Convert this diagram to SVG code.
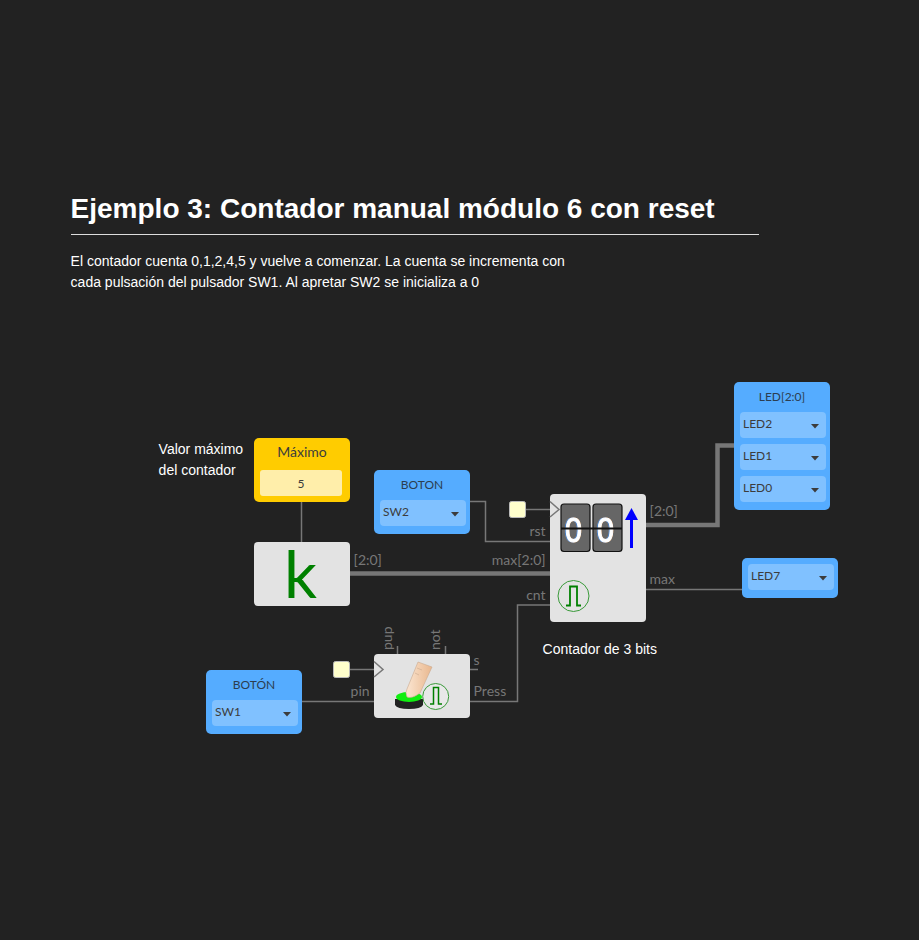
<svg xmlns="http://www.w3.org/2000/svg" width="919" height="940" viewBox="0 0 919 940">
<style>
.ui{font-family:"Liberation Sans",Arial,sans-serif;fill:#fff}
.lbl{font-family:Lato,"Liberation Sans",sans-serif;font-size:14px;fill:#777}
.ttl{font-family:Lato,"Liberation Sans",sans-serif;font-size:12px;fill:#2c3e50;text-anchor:middle}
.opt{font-family:Lato,"Liberation Sans",sans-serif;font-size:12px;fill:#3c3c3c}
.blue{fill:#55acff}
.sel{fill:#80c1ff}
.gray{fill:#e3e3e3}
.w{fill:none;stroke:#777;stroke-width:1.500}
.bus{fill:none;stroke:#777;stroke-width:4.500}
.caret{fill:#3c3c3c}
.fix{fill:#ffc;stroke:#bbb;stroke-width:1}
.clk{fill:none;stroke:#777;stroke-width:1.500}
.digit{font-family:"Liberation Sans",sans-serif;font-size:36px;fill:#fff;stroke:#fff;stroke-width:1;text-anchor:middle;filter:drop-shadow(-.7px 0 #2f7fe0) drop-shadow(.7px 0 #e08020)}
</style>
<defs>
<path id="caret" class="caret" d="M-4 0H4L0 4.500Z"/>
<g id="pulse"><circle r="15.500" fill="none" stroke="#3a9a3a" stroke-width="1"/><path d="M-7.500 9.500H-3.500V-9.500H3.500V9.500H7.500" fill="none" stroke="#008000" stroke-width="1.800"/></g>
<linearGradient id="finger" x1="0" y1="0" x2="1" y2="0"><stop offset="0" stop-color="#fbe6d2"/><stop offset="1" stop-color="#e9b78e"/></linearGradient>
</defs>
<rect width="919" height="940" fill="#222"/>
<g id="heading">
<text class="ui" x="70.600" y="218" font-size="28" font-weight="700">Ejemplo 3: Contador manual módulo 6 con reset</text>
<rect x="71" y="234" width="688" height="1" fill="#ddd"/>
<text class="ui" x="70.600" y="266" font-size="14">El contador cuenta 0,1,2,4,5 y vuelve a comenzar. La cuenta se incrementa con</text>
<text class="ui" x="70.600" y="287" font-size="14">cada pulsación del pulsador SW1. Al apretar SW2 se inicializa a 0</text>
<text class="ui" x="158.600" y="454" font-size="14">Valor máximo</text>
<text class="ui" x="158.600" y="475" font-size="14">del contador</text>
<text class="ui" x="542.600" y="654" font-size="14">Contador de 3 bits</text>
</g>
<g id="connectors">
<path class="w" d="M301.500 502V542"/>
<path class="w" d="M470 501.500H485.500V541.500H550"/>
<path class="w" d="M526 509.500H550"/>
<path class="bus" d="M350 573.500H550"/>
<path class="bus" d="M646 525H717.500V445.500H734"/>
<path class="w" d="M646 589.500H742"/>
<path class="w" d="M470 701.500H517.500V605H550"/>
<path class="w" d="M302 701.500H374"/>
<path class="w" d="M350 669.500H374"/>
<path class="w" d="M397.500 646V654M445.500 646V654M470 669.500H478"/>
</g>
<g id="labels">
<text class="lbl" x="353.600" y="565">[2:0]</text>
<text class="lbl" x="545.600" y="565" text-anchor="end">max[2:0]</text>
<text class="lbl" x="545.600" y="536" text-anchor="end">rst</text>
<text class="lbl" x="545.600" y="600" text-anchor="end">cnt</text>
<text class="lbl" x="649.600" y="516">[2:0]</text>
<text class="lbl" x="649.600" y="584">max</text>
<text class="lbl" x="369.600" y="696" text-anchor="end">pin</text>
<text class="lbl" x="473.600" y="696">Press</text>
<text class="lbl" x="473.600" y="665">s</text>
<text class="lbl" transform="translate(392 650) rotate(-90)">pup</text>
<text class="lbl" transform="translate(440 650) rotate(-90)">not</text>
</g>
<g id="maximo">
<rect x="254" y="438" width="96" height="64" rx="5" fill="#fc0"/>
<text x="302" y="456.500" font-family="Lato,sans-serif" font-size="14" fill="#3c3c3c" text-anchor="middle">Máximo</text>
<rect x="260" y="470" width="82" height="26" rx="3" fill="#fea"/>
<text x="301" y="488" font-family="Lato,sans-serif" font-size="12" fill="#3c3c3c" text-anchor="middle">5</text>
</g>
<g id="k">
<rect class="gray" x="254" y="542" width="96" height="64" rx="4"/>
<text x="300.500" y="598" font-family="Lato,sans-serif" font-size="65" fill="#008000" text-anchor="middle">k</text>
</g>
<g id="boton-sw2">
<rect class="blue" x="374" y="470" width="96" height="64" rx="5"/>
<text class="ttl" x="422" y="489">BOTON</text>
<rect class="sel" x="380" y="500" width="86" height="26" rx="4"/>
<text class="opt" x="383" y="516">SW2</text>
<use href="#caret" x="455" y="512"/>
</g>
<g id="fixed-rst">
<rect class="fix" x="509.500" y="501.500" width="16" height="16" rx="2"/>
</g>
<g id="contador">
<rect class="gray" x="550" y="494" width="96" height="128" rx="4"/>
<path class="clk" d="M550 501.500L559 509.500L550 517"/>
<rect x="561" y="504" width="29" height="47.500" rx="3" fill="#666" stroke="#111" stroke-width="1.200"/>
<rect x="593" y="504" width="29" height="47.500" rx="3" fill="#666" stroke="#111" stroke-width="1.200"/>
<text class="digit" transform="translate(573.500 542) scale(.85 1)">0</text>
<text class="digit" transform="translate(605.500 542) scale(.85 1)">0</text>
<path d="M561 528.500H622" stroke="#111" stroke-width="2"/>
<path d="M631.500 548V519" stroke="#00f" stroke-width="3"/>
<path d="M625 520L631.500 508L638 520Z" fill="#00f"/>
<use href="#pulse" x="573.500" y="596"/>
</g>
<g id="led-bus">
<rect class="blue" x="734" y="382" width="96" height="128" rx="5"/>
<text class="ttl" x="782" y="401">LED[2:0]</text>
<rect class="sel" x="740" y="412" width="86" height="26" rx="4"/>
<text class="opt" x="743" y="428">LED2</text>
<use href="#caret" x="815" y="424"/>
<rect class="sel" x="740" y="444" width="86" height="26" rx="4"/>
<text class="opt" x="743" y="460">LED1</text>
<use href="#caret" x="815" y="456"/>
<rect class="sel" x="740" y="476" width="86" height="26" rx="4"/>
<text class="opt" x="743" y="492">LED0</text>
<use href="#caret" x="815" y="488"/>
</g>
<g id="led7">
<rect class="blue" x="742" y="558" width="96" height="40" rx="5"/>
<rect class="sel" x="748" y="564" width="86" height="26" rx="4"/>
<text class="opt" x="751" y="580">LED7</text>
<use href="#caret" x="823" y="576"/>
</g>
<g id="boton-sw1">
<rect class="blue" x="206" y="670" width="96" height="64" rx="5"/>
<text class="ttl" x="254" y="689">BOTÓN</text>
<rect class="sel" x="212" y="700" width="86" height="26" rx="4"/>
<text class="opt" x="215" y="716">SW1</text>
<use href="#caret" x="287" y="712"/>
</g>
<g id="fixed-clk">
<rect class="fix" x="333.500" y="661.500" width="16" height="16" rx="2"/>
</g>
<g id="pulsador">
<rect class="gray" x="374" y="654" width="96" height="64" rx="4"/>
<path class="clk" d="M374 661.500L383 669.500L374 677"/>
<path d="M395 699V705Q397 709 409 709Q421 709 423 705V699Z" fill="#222"/>
<ellipse cx="409" cy="697" rx="13" ry="5" fill="#11ee11"/>
<path d="M418 662L432 667L420 693Q412 699 407 697Q405 692 407 689Z" fill="url(#finger)" stroke="#c9a98e" stroke-width=".6"/>
<path d="M417 668L422 670M415 673L419 675" stroke="#c9a98e" stroke-width=".6"/>
<circle cx="435.700" cy="696.500" r="13" fill="#e8e8e8" stroke="#3a9a3a"/>
<path d="M430 704H433.500V687.500H438.500V704H442" fill="none" stroke="#008000" stroke-width="1.500"/>
</g>
</svg>
